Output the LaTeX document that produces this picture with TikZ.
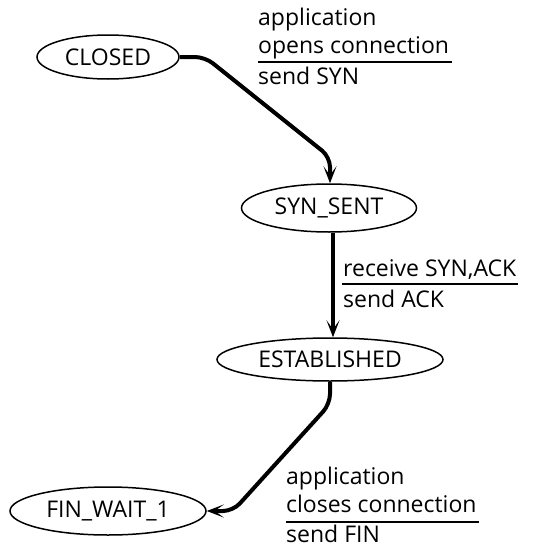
\documentclass[tikz,border=0pt]{standalone}
\usepackage{fontspec}
\setmainfont{Open Sans}
\usetikzlibrary{shapes.geometric,arrows.meta}
\begin{document}
\begin{tikzpicture}[x=1pt,y=-1pt,
  state/.style={ellipse,draw,line width=1.5pt,inner sep=0pt,font=\fontsize{23}{28}\selectfont},
  lbl/.style={anchor=base west,inner sep=0pt,font=\fontsize{23}{28}\selectfont},
  trans/.style={line width=4pt,rounded corners=10pt,-{Stealth[length=17pt,width=13pt,inset=9pt]}},
  rule/.style={line width=2pt}]
\useasboundingbox (0,0) rectangle (535,546);
\node[state,minimum width=142pt,minimum height=44pt] (closed) at (108,57) {CLOSED};
\node[state,minimum width=175pt,minimum height=48pt] (synsent) at (329,208) {SYN\_SENT};
\node[state,minimum width=226pt,minimum height=43pt] (est) at (330,359.5) {ESTABLISHED};
\node[state,minimum width=196pt,minimum height=48pt] (fin) at (108,511) {FIN\_WAIT\_1};
% edge 1
\draw[trans] (closed.east) -- (205,57) -- (330,157) -- (synsent.north -| 330,0);
% edge 2
\draw[trans] (synsent.south -| 333,0) -- (est.north -| 333,0);
% edge 3
\draw[trans] (est.south -| 330,0) -- (330,404) -- (233,511) -- (fin.east);
% label 1
\node[lbl] (l1a) at (258,25) {application};
\node[lbl] (l1b) at (258,53.3) {opens connection};
\node[lbl] (l1c) at (258,84) {send SYN};
\draw[rule] (258,62.3) -- (452,62.3);
% label 2
\node[lbl] (l2a) at (343,276.7) {receive SYN,ACK};
\node[lbl] (l2b) at (343,307.3) {send ACK};
\draw[rule] (342,284.3) -- (518,284.3);
% label 3
\node[lbl] (l3a) at (286,484.3) {application};
\node[lbl] (l3b) at (286,512.7) {closes connection};
\node[lbl] (l3c) at (286,542.7) {send FIN};
\draw[rule] (286,521.7) -- (479,521.7);
\end{tikzpicture}
\end{document}
